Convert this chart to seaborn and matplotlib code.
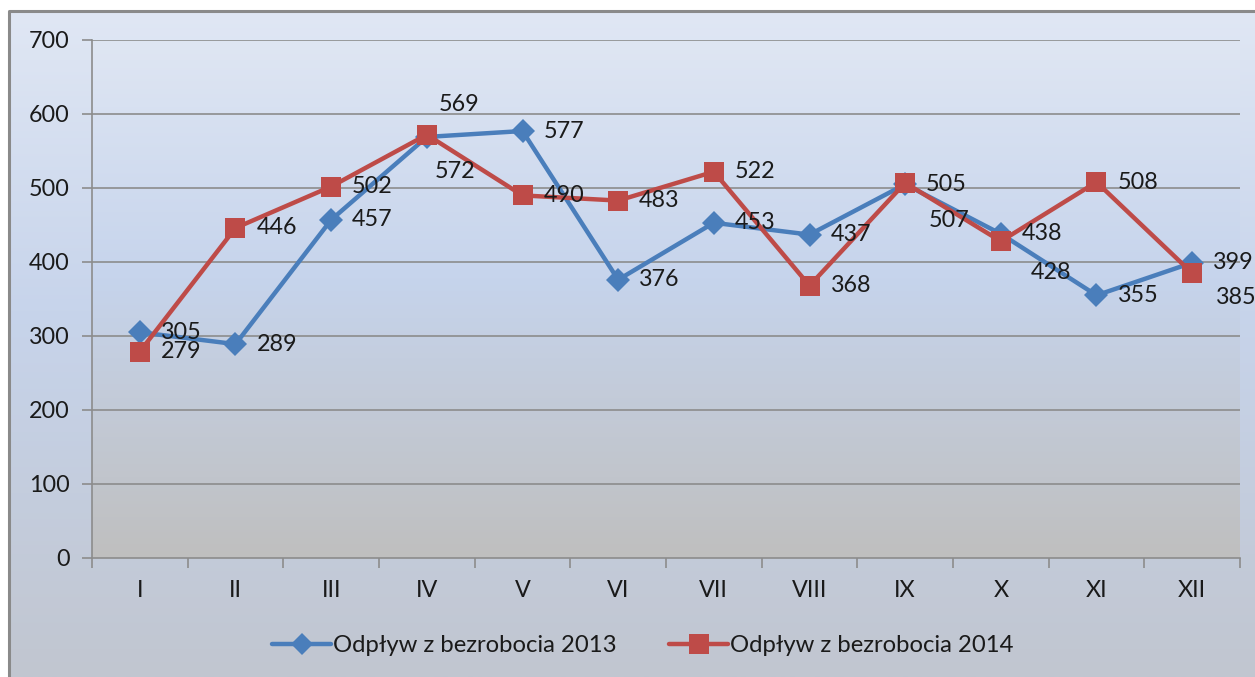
import numpy as np
import pandas as pd
import matplotlib
matplotlib.use("Agg")
import matplotlib.pyplot as plt
from matplotlib.colors import LinearSegmentedColormap
from matplotlib.lines import Line2D
import seaborn as sns

# ---- data ----
categories = ["I", "II", "III", "IV", "V", "VI", "VII", "VIII", "IX", "X", "XI", "XII"]
series_2013 = [305, 289, 457, 569, 577, 376, 453, 437, 505, 438, 355, 399]
series_2014 = [279, 446, 502, 572, 490, 483, 522, 368, 507, 428, 508, 385]
name_2013 = "Odpływ z bezrobocia 2013"
name_2014 = "Odpływ z bezrobocia 2014"
y_ticks = [0, 100, 200, 300, 400, 500, 600, 700]

# ---- styling ----
sns.set_theme(style="white")
plt.rcParams['font.family'] = ['Lato', 'DejaVu Sans']

W, H, DPI = 1255, 677, 100
fig = plt.figure(figsize=(W / DPI, H / DPI), dpi=DPI, facecolor="white")

# background (chart area) gradient
bg = fig.add_axes([0, 0, 1, 1], zorder=-10)
bg.set_xlim(0, W)
bg.set_ylim(H, 0)
bg.axis("off")
cmap_outer = LinearSegmentedColormap.from_list(
    "outer", [(0, "#e0e7f4"), (0.45, "#c7d4eb"), (1.0, "#c1c6d0")])
grad = np.linspace(0, 1, 256).reshape(-1, 1)
bg.imshow(grad, cmap=cmap_outer, aspect="auto", extent=(9, W + 5, H, 11), zorder=0)
bg.plot([9, 9, W + 5], [H + 5, 11, 11], color="#8a8a8a", lw=2.2, zorder=2,
        solid_capstyle="butt")

# main axes
left, right, top, bottom = 92, 1240, 40, 558
ax = fig.add_axes([left / W, 1 - bottom / H, (right - left) / W, (bottom - top) / H])
ax.patch.set_alpha(0)

x = np.arange(len(categories))
df = pd.DataFrame({
    "x": np.concatenate([x, x]),
    "value": series_2013 + series_2014,
    "series": [name_2013] * len(x) + [name_2014] * len(x),
})

cmap_plot = LinearSegmentedColormap.from_list(
    "plot", [(0, "#dfe6f3"), (0.46, "#c6d4ec"), (1.0, "#bfbfbf")])
ax.imshow(grad, cmap=cmap_plot, aspect="auto", extent=(-0.5, 11.5, 0, 700), zorder=0)

colors = {name_2013: "#4a7ebb", name_2014: "#be4b48"}
markers = {name_2013: "D", name_2014: "s"}
sizes = {name_2013: 12, name_2014: 15}

for name in [name_2013, name_2014]:
    sub = df[df["series"] == name]
    sns.lineplot(data=sub, x="x", y="value", ax=ax, color=colors[name],
                 marker=markers[name], markersize=sizes[name], markeredgewidth=0,
                 linewidth=3.2, legend=False, zorder=3)

FS = 16.8
ax.set_xlim(-0.5, 11.5)
ax.set_ylim(0, 700)
ax.set_yticks(y_ticks)
ax.set_yticklabels([str(t) for t in y_ticks])
ax.set_xticks(x)
ax.set_xticklabels(categories)
ax.set_xlabel("")
ax.set_ylabel("")
for t in y_ticks[1:]:
    ax.axhline(t, color="#8c8c8c", lw=1.2, zorder=1)
for s in ["top", "right"]:
    ax.spines[s].set_visible(False)
for s in ["left", "bottom"]:
    ax.spines[s].set_color("#8c8c8c")
    ax.spines[s].set_linewidth(1.2)
ax.tick_params(axis="y", which="major", left=True, length=7, color="#8c8c8c",
               width=1.2, labelsize=FS, pad=9, labelcolor="#1a1a1a")
ax.tick_params(axis="x", which="major", bottom=False, labelsize=FS, pad=10,
               labelcolor="#1a1a1a")
ax.set_xticks(np.arange(-0.5, 12, 1), minor=True)
ax.tick_params(axis="x", which="minor", bottom=True, length=7, color="#8c8c8c", width=1.2)
ax.grid(False)

# data labels (offsets in pixels: dx to left edge of text, dy downward)
offsets_2013 = {3: (12, -32)}
offsets_2014 = {3: (8, 37), 8: (24, 38), 9: (30, 31), 11: (24, 24)}
px = 72 / DPI
for vals, offs in [(series_2013, offsets_2013), (series_2014, offsets_2014)]:
    for i, v in enumerate(vals):
        dx, dy = offs.get(i, (21, 0))
        ax.annotate(str(v), (x[i], v), xytext=(dx * px, -dy * px),
                    textcoords="offset points", ha="left", va="center",
                    fontsize=FS, color="#1a1a1a", annotation_clip=False, zorder=5)

handles = [Line2D([], [], color=colors[n], marker=markers[n], markersize=sizes[n] - 1,
                  markeredgewidth=0, lw=3.2) for n in [name_2013, name_2014]]
fig.legend(handles, [name_2013, name_2014], loc="center",
           bbox_to_anchor=(643 / W, 1 - 646 / H), ncol=2, frameon=False,
           fontsize=17.2, handlelength=2.45, handletextpad=0.1, columnspacing=2.2,
           labelcolor="#1a1a1a")

fig.savefig("out.png", dpi=DPI, facecolor="white")
